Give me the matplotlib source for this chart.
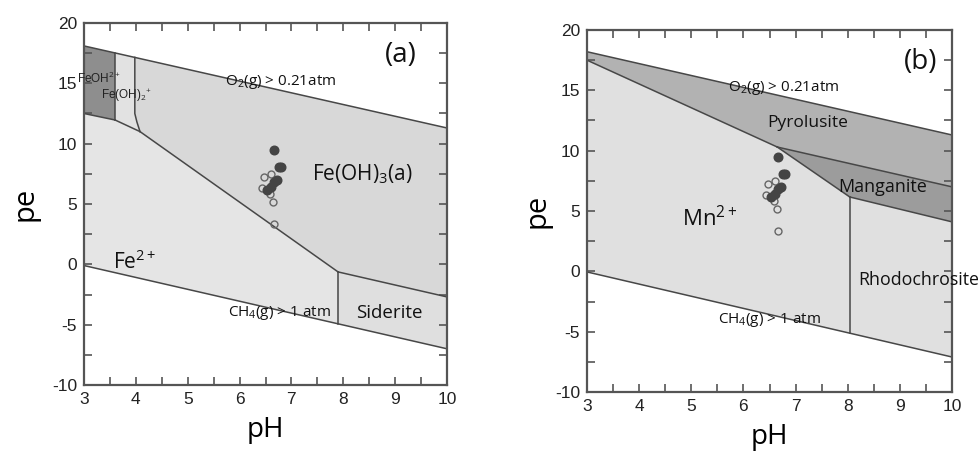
import numpy as np
import matplotlib
matplotlib.use("Agg")
import matplotlib.pyplot as plt
from matplotlib.ticker import MultipleLocator

plt.rcParams['mathtext.fontset'] = 'custom'
plt.rcParams['mathtext.rm'] = 'Open Sans'
plt.rcParams['mathtext.it'] = 'Open Sans'
plt.rcParams['mathtext.bf'] = 'Open Sans'
plt.rcParams['axes.unicode_minus'] = False

# ---------------- data ----------------
ph_range = [3, 10]
# panel (a) Fe system
o2_a = [18.1, 11.3]          # pe of O2 boundary at pH 3 and 10
ch4_a = [-0.1, -7.0]         # pe of CH4 boundary at pH 3 and 10
feoh2_bottom_ph = [3.0, 3.6]
feoh2_bottom_pe = [12.5, 11.96]
feoh2p_right_ph = [3.98, 3.98, 4.02, 4.08]
feoh2p_right_pe = [None, 12.5, 11.8, 11.0]
fe2_upper_ph = [4.08, 7.9]
fe2_upper_pe = [11.0, -0.63]
siderite_top_ph = [7.9, 10.0]
siderite_top_pe = [-0.63, -2.7]

# panel (b) Mn system
o2_b = [18.2, 11.3]
ch4_b = [-0.05, -7.1]
mn2_upper_ph = [3.0, 6.65]
mn2_upper_pe = [17.5, 10.3]
pyro_mang_ph = [6.65, 10.0]
pyro_mang_pe = [10.3, 7.0]
mang_mn2_ph = [6.65, 8.04]
mang_mn2_pe = [10.3, 6.16]
mang_rhodo_ph = [8.04, 10.0]
mang_rhodo_pe = [6.16, 4.1]

# sample points (same in both panels)
filled_ph = [6.67, 6.76, 6.80, 6.72, 6.66, 6.60, 6.52]
filled_pe = [9.45, 8.05, 8.1, 7.0, 6.8, 6.45, 6.2]
open_ph = [6.48, 6.60, 6.44, 6.59, 6.65, 6.66]
open_pe = [7.27, 7.46, 6.3, 5.81, 5.19, 3.32]

# ---------------- figure ----------------
fig = plt.figure(figsize=(9.79, 4.51), dpi=100)
axA = fig.add_axes([84/979, 1-385/451, 363/979, 362/451])
axB = fig.add_axes([587/979, 1-392/451, 365/979, 362/451])

LC = '#474747'
LW = 1.1


def lin(vals):
    return lambda x: np.interp(x, ph_range, vals)


def style(ax):
    ax.set_xlim(3, 10)
    ax.set_ylim(-10, 20)
    ax.xaxis.set_major_locator(MultipleLocator(1))
    ax.xaxis.set_minor_locator(MultipleLocator(0.5))
    ax.yaxis.set_major_locator(MultipleLocator(5))
    ax.yaxis.set_minor_locator(MultipleLocator(2.5))
    ax.tick_params(which='both', direction='in', top=True, right=True,
                   color='#555555', width=1.2)
    ax.tick_params(which='major', length=6, labelsize=12.5, pad=5)
    ax.tick_params(which='minor', length=6)
    for lab in ax.get_xticklabels() + ax.get_yticklabels():
        lab.set_fontfamily('Liberation Sans')
        lab.set_color('#222222')
    for s in ax.spines.values():
        s.set_linewidth(1.6)
        s.set_color('#555555')
    ax.set_xlabel('pH', fontsize=20, family='Open Sans', va='center')
    ax.set_ylabel('pe', fontsize=21, family='Open Sans', va='center')
    ax.xaxis.set_label_coords(0.5, -0.124)


def points(ax):
    ax.plot(open_ph, open_pe, 'o', ms=5, mfc='none', mec='#666666', mew=1.0, zorder=5)
    ax.plot(filled_ph, filled_pe, 'o', ms=6.2, mfc='#444444', mec='#444444', zorder=6)


# ----- panel (a) -----
o2 = lin(o2_a)
ch4 = lin(ch4_a)

# FeOH2+
poly = [(3, o2(3)), (3.6, o2(3.6)), (3.6, feoh2_bottom_pe[1]), (3, feoh2_bottom_pe[0])]
axA.fill(*zip(*poly), color='#8e8e8e', lw=0)
# Fe(OH)2+
poly = [(3.6, o2(3.6)), (3.98, o2(3.98))] + \
       list(zip(feoh2p_right_ph[1:], feoh2p_right_pe[1:])) + [(3.6, feoh2_bottom_pe[1])]
axA.fill(*zip(*poly), color='#e2e2e2', lw=0)
# Fe2+
poly = list(zip(feoh2_bottom_ph, feoh2_bottom_pe)) + list(zip(fe2_upper_ph, fe2_upper_pe)) + \
       [(7.9, ch4(7.9)), (3, ch4(3))]
axA.fill(*zip(*poly), color='#e5e5e5', lw=0)
# Fe(OH)3
poly = [(3.98, o2(3.98)), (10, o2(10)), (10, siderite_top_pe[1]), (7.9, -0.63)] + \
       list(zip(feoh2p_right_ph[:0:-1], feoh2p_right_pe[:0:-1]))
axA.fill(*zip(*poly), color='#d8d8d8', lw=0)
# Siderite
poly = list(zip(siderite_top_ph, siderite_top_pe)) + [(10, ch4(10)), (7.9, ch4(7.9))]
axA.fill(*zip(*poly), color='#dfdfdf', lw=0)

axA.plot(ph_range, o2_a, color=LC, lw=LW)
axA.plot(ph_range, ch4_a, color=LC, lw=LW)
axA.plot([3.6, 3.6], [feoh2_bottom_pe[1], o2(3.6)], color=LC, lw=LW)
axA.plot(feoh2_bottom_ph, feoh2_bottom_pe, color=LC, lw=LW)
axA.plot([3.98] + feoh2p_right_ph[1:], [o2(3.98)] + feoh2p_right_pe[1:], color=LC, lw=LW)
axA.plot([3.6, 4.08], [feoh2_bottom_pe[1], 11.0], color=LC, lw=LW)
axA.plot(fe2_upper_ph, fe2_upper_pe, color=LC, lw=LW)
axA.plot(siderite_top_ph, siderite_top_pe, color=LC, lw=LW)
axA.plot([7.9, 7.9], [-0.63, ch4(7.9)], color=LC, lw=LW)
points(axA)

tf = dict(family='Open Sans', color='#111111')
axA.text(9.11, 17.35, '(a)', fontsize=20, ha='center', va='center', **tf)
axA.text(6.8, 15.1, r'O$_2$(g) > 0.21atm', fontsize=11, ha='center', va='center', **tf)
axA.text(8.36, 7.5, r'Fe(OH)$_3$(a)', fontsize=15, ha='center', va='center', **tf)
axA.text(3.55, 0.2, r'Fe$^{2+}$', fontsize=15, ha='left', va='center', **tf)
axA.text(6.76, -4.0, r'CH$_4$(g) > 1 atm', fontsize=11, ha='center', va='center', **tf)
axA.text(8.88, -4.0, 'Siderite', fontsize=13.5, ha='center', va='center', **tf)
axA.text(2.86, 15.45, r'FeOH$^{2+}$', fontsize=8.5, ha='left', va='center',
         family='Liberation Sans', color='#222222')
axA.text(3.82, 14.0, r'Fe(OH)$_2$$^{+}$', fontsize=8.5, ha='center', va='center',
         family='Liberation Sans', color='#222222')
style(axA)
axA.yaxis.set_label_coords(-0.163, 0.5)

# ----- panel (b) -----
o2 = lin(o2_b)
ch4 = lin(ch4_b)
# Pyrolusite
poly = [(3, o2(3)), (10, o2(10))] + list(zip(pyro_mang_ph[::-1], pyro_mang_pe[::-1])) + \
       list(zip(mn2_upper_ph[::-1], mn2_upper_pe[::-1]))
axB.fill(*zip(*poly), color='#b2b2b2', lw=0)
# Manganite
poly = list(zip(pyro_mang_ph, pyro_mang_pe)) + list(zip(mang_rhodo_ph[::-1], mang_rhodo_pe[::-1])) + \
       [(mang_mn2_ph[0], mang_mn2_pe[0])]
axB.fill(*zip(*poly), color='#9c9c9c', lw=0)
# Mn2+
poly = list(zip(mn2_upper_ph, mn2_upper_pe)) + [(8.04, 6.16), (8.04, ch4(8.04)), (3, ch4(3))]
axB.fill(*zip(*poly), color='#e0e0e0', lw=0)
# Rhodochrosite
poly = list(zip(mang_rhodo_ph, mang_rhodo_pe)) + [(10, ch4(10)), (8.04, ch4(8.04))]
axB.fill(*zip(*poly), color='#e0e0e0', lw=0)

axB.plot(ph_range, o2_b, color=LC, lw=LW)
axB.plot(ph_range, ch4_b, color=LC, lw=LW)
axB.plot(mn2_upper_ph, mn2_upper_pe, color=LC, lw=LW)
axB.plot(pyro_mang_ph, pyro_mang_pe, color=LC, lw=LW)
axB.plot(mang_mn2_ph, mang_mn2_pe, color=LC, lw=LW)
axB.plot(mang_rhodo_ph, mang_rhodo_pe, color=LC, lw=LW)
axB.plot([8.04, 8.04], [6.16, ch4(8.04)], color=LC, lw=LW)
points(axB)

axB.text(9.39, 17.35, '(b)', fontsize=20, ha='center', va='center', **tf)
axB.text(6.78, 15.2, r'O$_2$(g) > 0.21atm', fontsize=11, ha='center', va='center', **tf)
axB.text(7.24, 12.3, 'Pyrolusite', fontsize=12.5, ha='center', va='center', **tf)
axB.text(8.68, 7.0, 'Manganite', fontsize=13, ha='center', va='center', **tf)
axB.text(4.82, 3.7, r'Mn$^{2+}$', fontsize=16, ha='left', va='baseline', **tf)
axB.text(8.2, -0.7, 'Rhodochrosite', fontsize=12.8, ha='left', va='center', clip_on=False, **tf)
axB.text(6.49, -4.0, r'CH$_4$(g) > 1 atm', fontsize=11, ha='center', va='center', **tf)
style(axB)
axB.yaxis.set_label_coords(-0.137, 0.5)

fig.savefig('out.png', dpi=100)
